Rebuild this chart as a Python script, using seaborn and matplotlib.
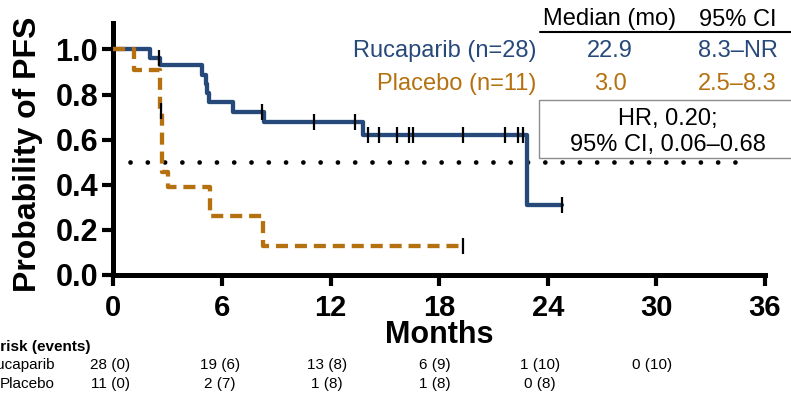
import matplotlib
matplotlib.use("Agg")
import matplotlib.pyplot as plt
import matplotlib.transforms as mtransforms
from matplotlib.patches import Rectangle
from matplotlib.lines import Line2D
import pandas as pd
import seaborn as sns

# --------------------------------------------------
# Data
# --------------------------------------------------

ruc_time = [0, 2.03, 2.58, 4.88, 5.12, 5.20, 5.30, 6.60, 8.34, 13.80, 22.84, 24.77]
ruc_surv = [1.0, 0.964, 0.929, 0.888, 0.848, 0.807, 0.766, 0.724, 0.680, 0.620, 0.310, 0.310]
ruc_cens_time = [2.53, 8.20, 11.10, 13.35, 14.05, 14.70, 15.65, 16.35, 16.54,
                 19.30, 21.65, 22.38, 22.65, 24.77]
ruc_cens_surv = [0.964, 0.724, 0.680, 0.680, 0.620, 0.620, 0.620, 0.620, 0.620,
                 0.620, 0.620, 0.620, 0.620, 0.310]

pla_time = [0, 1.16, 2.58, 2.70, 3.00, 5.34, 8.29, 19.32]
pla_surv = [1.0, 0.909, 0.727, 0.455, 0.390, 0.260, 0.130, 0.130]
pla_cens_time = [2.62, 19.32]
pla_cens_surv = [0.727, 0.130]

arms = ["Rucaparib", "Placebo"]
arm_labels = ["Rucaparib (n=28)", "Placebo (n=11)"]
medians = ["22.9", "3.0"]
median_ci = ["8.3\u2013NR", "2.5\u20138.3"]
hr_text = "HR, 0.20;\n95% CI, 0.06\u20130.68"

risk_months = [0, 6, 12, 18, 24, 30]
ruc_risk = ["28 (0)", "19 (6)", "13 (8)", "6 (9)", "1 (10)", "0 (10)"]
pla_risk = ["11 (0)", "2 (7)", "1 (8)", "1 (8)", "0 (8)"]

x_ticks = [0, 6, 12, 18, 24, 30, 36]
y_ticks = [0.0, 0.2, 0.4, 0.6, 0.8, 1.0]

# layout tweaks for the risk table columns (months)
risk_shift = [-0.17, -0.12, -0.2, -0.22, -0.44, -0.25]

colors = {"Rucaparib": "#27497a", "Placebo": "#b5700f"}

# --------------------------------------------------
# Long-form tables
# --------------------------------------------------

curves = pd.concat([
    pd.DataFrame({"time": ruc_time, "surv": ruc_surv, "arm": "Rucaparib"}),
    pd.DataFrame({"time": pla_time, "surv": pla_surv, "arm": "Placebo"}),
], ignore_index=True)

censors = pd.concat([
    pd.DataFrame({"time": ruc_cens_time, "surv": ruc_cens_surv, "arm": "Rucaparib"}),
    pd.DataFrame({"time": pla_cens_time, "surv": pla_cens_surv, "arm": "Placebo"}),
], ignore_index=True)

# --------------------------------------------------
# Plot
# --------------------------------------------------

sns.set_style("ticks", {"axes.edgecolor": "black", "text.color": "black",
                        "xtick.color": "black", "ytick.color": "black",
                        "axes.labelcolor": "black"})
plt.rcParams["font.family"] = ["Liberation Sans", "DejaVu Sans"]

W, H = 791, 394
fig = plt.figure(figsize=(W / 100, H / 100), dpi=100)
ax = fig.add_axes([113.3 / W, (H - 275) / H, (765 - 113.3) / W, (275 - 23) / H])

# median reference line
ax.plot([0.93, 35.25], [0.5, 0.5], color="black", lw=3.4,
        linestyle=(0, (0.01, 3.65)), dash_capstyle="round", zorder=1)

sns.lineplot(
    data=curves, x="time", y="surv", hue="arm", style="arm",
    palette=colors, dashes={"Rucaparib": "", "Placebo": (2.8, 1.6)},
    drawstyle="steps-post", estimator=None, sort=False,
    linewidth=3.1, legend=False, ax=ax, zorder=3,
)

sns.scatterplot(
    data=censors, x="time", y="surv", marker="|", s=140,
    color="black", linewidth=1.6, legend=False, ax=ax, zorder=4,
)

ax.set_xlim(0, 36)
ax.set_ylim(0, 1.117)
ax.set_xticks(x_ticks)
ax.set_yticks(y_ticks)
ax.set_yticklabels([f"{v:.1f}" for v in y_ticks])
sns.despine(ax=ax)
for side in ["left", "bottom"]:
    ax.spines[side].set_linewidth(3.6)
    ax.spines[side].set_color("black")
ax.tick_params(axis="both", length=8, width=3, color="black", labelcolor="black")
ax.tick_params(axis="x", labelsize=21, pad=6)
ax.tick_params(axis="y", labelsize=22, pad=3)
for lab in ax.get_xticklabels() + ax.get_yticklabels():
    lab.set_fontweight("bold")

ax.set_xlabel("Months", fontsize=22, fontweight="bold", color="black")
ax.xaxis.label.set_va("baseline")
ax.xaxis.set_label_coords(0.5, (275 - 343) / 252)
ax.set_ylabel("Probability of PFS", fontsize=23, fontweight="bold", color="black")
ax.yaxis.set_label_coords((43 - 113.3) / 651.7, (275 - 154) / 252)


def fx(px):
    return px / W


def fy(py):
    return 1 - py / H


# summary table, top right
fig.text(fx(610), fy(25.5), "Median (mo)", fontsize=17, ha="center", va="baseline")
fig.text(fx(737.5), fy(25.5), "95% CI", fontsize=17, ha="center", va="baseline")
fig.add_artist(Line2D([fx(540), fx(791)], [fy(32.3), fy(32.3)], color="black", lw=1.5))
for i, arm in enumerate(arms):
    base = [57, 90][i]
    fig.text(fx(536.7), fy(base), arm_labels[i], fontsize=17, ha="right",
             va="baseline", color=colors[arm])
    fig.text(fx(610), fy(base), medians[i], fontsize=17, ha="center",
             va="baseline", color=colors[arm])
    fig.text(fx(737.5), fy(base), median_ci[i], fontsize=17, ha="center",
             va="baseline", color=colors[arm])

fig.add_artist(Rectangle((fx(539.3), fy(158.3)), fx(800) - fx(539.3), fy(100) - fy(158.3),
                         transform=fig.transFigure, facecolor="white",
                         edgecolor="#8c8c8c", lw=1.0, zorder=5))
line1, line2 = hr_text.split("\n")
fig.text(fx(668), fy(125), line1, fontsize=17, ha="center", va="baseline", zorder=6)
fig.text(fx(668), fy(151), line2, fontsize=17, ha="center", va="baseline", zorder=6)

# number at risk table (left edge is cropped, as in the source figure)
trans = mtransforms.blended_transform_factory(ax.transData, fig.transFigure)
fig.text(fx(90), fy(350.7), "At risk (events)", fontsize=11, fontweight="bold",
         ha="right", va="baseline")
fig.text(fx(55), fy(369), "Rucaparib", fontsize=11, ha="right", va="baseline")
fig.text(fx(55), fy(388.3), "Placebo", fontsize=11, ha="right", va="baseline")
for m, d, lab in zip(risk_months, risk_shift, ruc_risk):
    ax.text(m + d, fy(369), lab, fontsize=11, ha="center", va="baseline",
            transform=trans, clip_on=False)
for m, d, lab in zip(risk_months, risk_shift, pla_risk):
    ax.text(m + d, fy(388.3), lab, fontsize=11, ha="center", va="baseline",
            transform=trans, clip_on=False)

fig.savefig("out.png", dpi=100)
plt.close(fig)
